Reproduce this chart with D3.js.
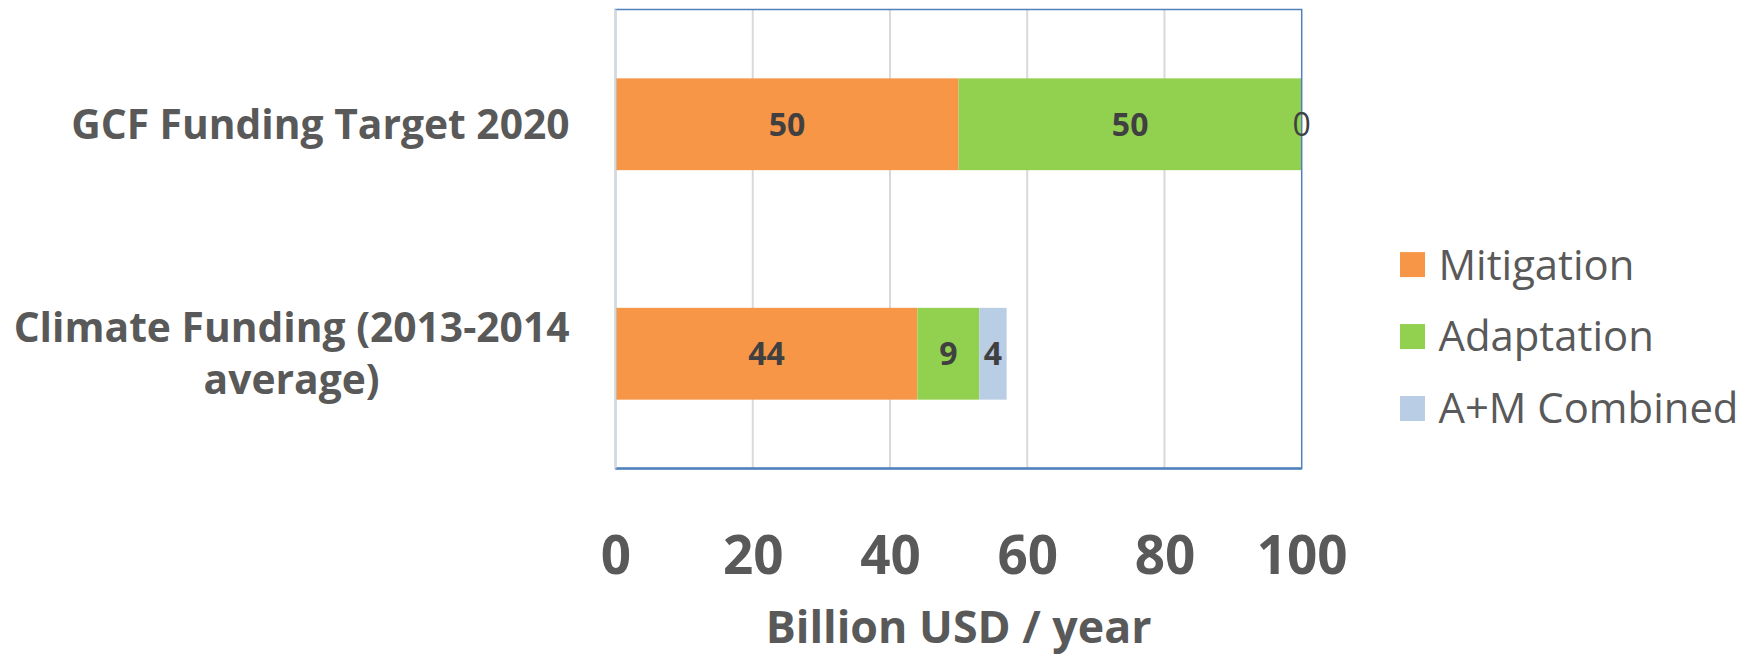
<!DOCTYPE html>
<html><head><meta charset="utf-8">
<script src="https://cdn.jsdelivr.net/npm/d3@7"></script>
<style>body{margin:0;background:#fff}</style></head>
<body>
<script>
// ---- data ----
const categories = ["GCF Funding Target 2020", "Climate Funding (2013-2014 average)"];
const categoryLines = [["GCF Funding Target 2020"], ["Climate Funding (2013-2014", "average)"]];
const seriesNames = ["Mitigation", "Adaptation", "A+M Combined"];
const mitigation = [50, 44];
const adaptation = [50, 9];
const combined = [0, 4];
const xTicks = [0, 20, 40, 60, 80, 100];
const axisTitle = "Billion USD / year";
const colors = ["#F79646", "#92D050", "#B9CDE5"];

const W = 1758, H = 656;
const m = {left: 615.5, right: 1301.7, top: 9.5, bottom: 468.5};
const font = "'Open Sans', sans-serif";
const textGray = "#595959";

const svg = d3.select("body").append("svg").attr("width", W).attr("height", H);

const x = d3.scaleLinear().domain([0, 100]).range([m.left, m.right]);
const y = d3.scaleBand().domain(categories).range([m.top, m.bottom]).paddingInner(0.6).paddingOuter(0.3);

const rows = categories.map((c, i) => ({cat: c, Mitigation: mitigation[i], Adaptation: adaptation[i], "A+M Combined": combined[i]}));
const stacked = d3.stack().keys(seriesNames)(rows);

function fit(sel, target) {
  const w = sel.node().getComputedTextLength();
  const fs = parseFloat(sel.attr("font-size"));
  const nf = fs * target / w;
  sel.attr("font-size", nf);
  return nf;
}

// gridlines
svg.append("g").selectAll("line").data(xTicks.slice(1, -1)).join("line")
  .attr("x1", d => x(d)).attr("x2", d => x(d))
  .attr("y1", m.top).attr("y2", m.bottom)
  .attr("stroke", "#D9D9D9").attr("stroke-width", 2);

// bars
const gs = svg.append("g").selectAll("g").data(stacked).join("g")
  .attr("fill", (d, i) => colors[i]);
gs.selectAll("rect").data(d => d).join("rect")
  .attr("x", d => x(d[0])).attr("width", d => x(d[1]) - x(d[0]))
  .attr("y", d => y(d.data.cat)).attr("height", y.bandwidth());

// plot border
svg.append("rect").attr("x", m.left).attr("y", m.top)
  .attr("width", m.right - m.left).attr("height", m.bottom - m.top)
  .attr("fill", "none").attr("stroke", "#4F81BD").attr("stroke-width", 1.5);
svg.append("line").attr("x1", m.left).attr("x2", m.right).attr("y1", m.bottom).attr("y2", m.bottom)
  .attr("stroke", "#4F81BD").attr("stroke-width", 2.5);
svg.append("line").attr("x1", m.left).attr("x2", m.left).attr("y1", m.top).attr("y2", m.bottom)
  .attr("stroke", "#D9D9D9").attr("stroke-width", 2);

// data labels
const lblSize = 32;
stacked.forEach((s, si) => {
  svg.append("g").selectAll("text").data(s).join("text")
    .attr("x", d => (x(d[0]) + x(d[1])) / 2)
    .attr("y", d => y(d.data.cat) + y.bandwidth() / 2 + lblSize * 0.357)
    .attr("text-anchor", "middle")
    .attr("font-family", font).attr("font-size", lblSize)
    .attr("font-weight", d => (d[1] - d[0]) === 0 ? "normal" : "bold")
    .attr("fill", "#404040")
    .text(d => d[1] - d[0]);
});

// x axis tick labels
const xAxis = d3.axisBottom(x).tickValues(xTicks).tickSize(0).tickPadding(0);
const ax = svg.append("g").attr("transform", `translate(0,${574})`).call(xAxis);
ax.select(".domain").remove();
ax.selectAll("text").attr("dy", 0).attr("y", 0)
  .attr("font-family", font).attr("font-weight", "bold").attr("font-size", 53)
  .attr("fill", textGray);

// axis title
const t = svg.append("text").attr("x", (765.8 + 1151.5) / 2).attr("y", 643)
  .attr("text-anchor", "middle").attr("font-family", font).attr("font-weight", "bold")
  .attr("font-size", 36).attr("fill", textGray).text(axisTitle);
fit(t, 386);

// category labels
const catG = svg.append("g");
const catRight = 569.6, blockW = 556;
const probe = catG.append("text").attr("font-family", font).attr("font-weight", "bold")
  .attr("font-size", 36).text(categoryLines[1][0]);
const catSize = fit(probe, blockW);
probe.remove();
const lineH = 52;
categories.forEach((c, i) => {
  const lines = categoryLines[i];
  const cy = y(c) + y.bandwidth() / 2;
  const cx = catRight - blockW / 2;
  lines.forEach((ln, li) => {
    const ly = cy + (li - (lines.length - 1) / 2) * lineH + catSize * 0.357;
    const single = lines.length === 1;
    catG.append("text").attr("x", single ? catRight : cx).attr("y", ly)
      .attr("text-anchor", single ? "end" : "middle")
      .attr("font-family", font).attr("font-weight", "bold").attr("font-size", catSize)
      .attr("fill", textGray).text(ln);
  });
});

// legend
const lg = svg.append("g");
const legY = d3.scalePoint().domain(seriesNames).range([264.6, 408.5]);
const legTexts = [];
seriesNames.forEach((s, i) => {
  lg.append("rect").attr("x", 1400).attr("y", legY(s) - 12.5).attr("width", 25).attr("height", 25)
    .attr("fill", colors[i]);
  legTexts.push(lg.append("text").attr("x", 1438.5).attr("y", legY(s))
    .attr("font-family", font).attr("font-size", 42).attr("fill", textGray).text(s));
});
const lgSize = fit(legTexts[2], 300);
legTexts.forEach((tx, i) => tx.attr("font-size", lgSize).attr("y", legY(seriesNames[i]) + lgSize * 0.357));
</script>
</body></html>
